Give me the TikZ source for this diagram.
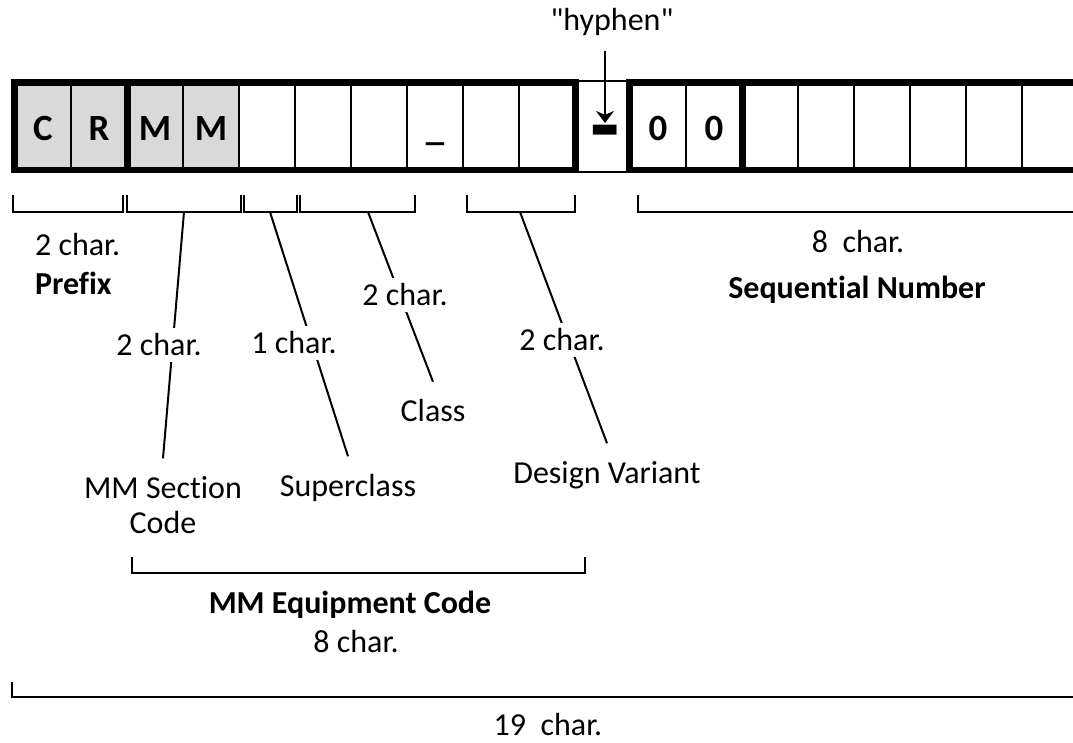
\documentclass[tikz,border=0pt]{standalone}
\usepackage{fontspec}
\setmainfont{Carlito}[Ligatures={NoCommon,TeXOff}]
\usetikzlibrary{arrows.meta}
\definecolor{cellgray}{HTML}{D9D9D9}
\newcommand\codefont{\fontsize{16}{19.5}\selectfont}

\begin{document}
\begin{tikzpicture}[x=0.5pt, y=-0.5pt, >={Stealth[length=6pt,width=9pt]},
  font=\codefont,
  cell/.style={draw, line width=0.7pt, minimum width=28pt, minimum height=43.25pt,
    inner sep=0pt, text height=14pt, text depth=0pt, font=\fontsize{18.5}{20}\selectfont\bfseries},
  outline/.style={line width=3.25pt, line join=miter},
  bracket/.style={line width=1.2pt},
  leader/.style={line width=1pt},
  charcount/.style={fill=white, inner sep=3pt},
  fieldname/.style={inner sep=2pt, outer sep=7pt, align=center}]
  \useasboundingbox (0,0) rectangle (1073,743);

  % the code cells
  \node[cell, minimum width=27.5pt, minimum height=45.5pt] (hycell) at (602.5,126.5) {};
  \foreach \ch [count=\i] in {C,R,M,M}
    \node[cell, fill=cellgray] (a\i) at ({56*\i-13},126.25) {\ch};
  \foreach \ch [count=\i from 5] in {{},{},{},\_,{},{}}
    \node[cell] (a\i) at ({56*\i-13},126.25) {\ch};
  \foreach \ch [count=\i] in {0,0,{},{},{},{},{},{}}
    \node[cell] (b\i) at ({602+56*\i},126.25) {\ch};
  \draw[outline] (a1.north west) rectangle (a10.south east);
  \draw[outline] (a2.north east) -- (a2.south east);
  \draw[outline] (b1.north west) rectangle (b8.south east);
  \draw[outline] (b2.north east) -- (b2.south east);

  % hyphen
  \node (hylbl) at (612,22) {"hyphen"};
  \node[font=\fontsize{48}{48}\selectfont\bfseries, inner sep=0pt, anchor=north] (hybar) at (605,125) {-};
  \draw[->, line width=1pt, shorten <=4pt, shorten >=1pt] (hybar |- hylbl.south) -- (hybar.north);

  % brackets under the cells
  \draw[bracket] (13,195) |- (123,212) -- (123,195);
  \draw[bracket] (127,195) |- (241,212) -- (241,195);
  \draw[bracket] (244,195) |- (297,212) -- (297,195);
  \draw[bracket] (300,195) |- (415,212) -- (415,195);
  \draw[bracket] (467,195) |- (575,212) -- (575,195);
  \draw[bracket] (638,195) |- (1085,212) -- (1085,195);
  \draw[bracket] (132,557) |- (585,573) -- (585,557);
  \draw[bracket] (12,682) |- (1085,697) -- (1085,682);
  \coordinate (secbr) at (184,212);
  \coordinate (supbr) at (270,212);
  \coordinate (clsbr) at (368,212);
  \coordinate (desbr) at (520,212);

  % field names
  \node[align=left, anchor=west] (prefix) at (28,264) {2 char.\\\textbf{Prefix}};
  \node[fieldname, font=\fontsize{16}{17.5}\selectfont] (secname) at (163,505) {MM Section\\Code};
  \node[fieldname] (supname) at (348,488) {Superclass};
  \node[fieldname] (clsname) at (433,411) {Class};
  \node[fieldname] (desname) at (607,475) {Design Variant};
  \node (seqlen) at (858,242) {8~ char.};
  \node[font=\codefont\bfseries] (seqname) at (857,290) {Sequential Number};
  \node[font=\codefont\bfseries] (equipname) at (350,605) {MM Equipment Code};
  \node (equiplen) at (356,642) {8 char.};
  \node (totallen) at (548,725) {19~ char.};

  % leaders
  \draw[leader] (secbr) -- (secname.north);
  \draw[leader] (supbr) -- (supname.north);
  \draw[leader] (clsbr) -- (clsname.north);
  \draw[leader] (desbr) -- (desname.north);
  \node[charcount] (seclen) at (159,345) {2 char.};
  \node[charcount] (suplen) at (294,343) {1 char.};
  \node[charcount] (clslen) at (405,295) {2 char.};
  \node[charcount] (deslen) at (562,340) {2 char.};
\end{tikzpicture}
\end{document}
